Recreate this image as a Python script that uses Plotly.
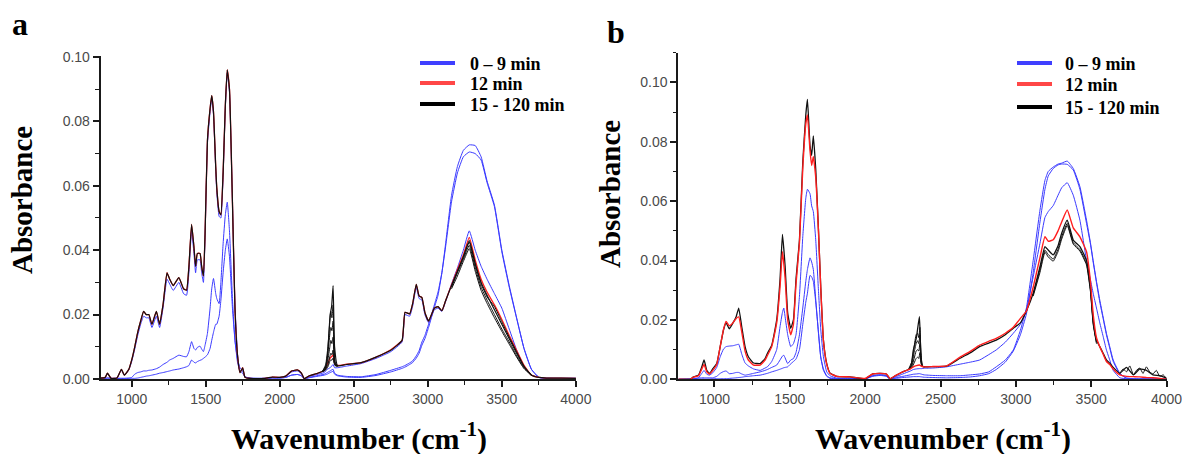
import plotly.graph_objects as go

# ---------------- panel a : wavenumber grid and spectra ----------------
wn_a = [790, 820, 836, 860, 900, 930, 950, 980, 1000, 1020,
        1040, 1060, 1080, 1098, 1115, 1136, 1166, 1188, 1211, 1238,
        1256, 1280, 1318, 1350, 1370, 1386, 1404, 1420, 1431, 1443,
        1461, 1472, 1484, 1495, 1511, 1529, 1540, 1552, 1567, 1574,
        1590, 1602, 1617, 1632, 1645, 1660, 1680, 1697, 1715, 1731,
        1749, 1765, 1800, 1900, 1950, 2000, 2040, 2080, 2120, 2146,
        2165, 2200, 2250, 2300, 2320, 2340, 2350, 2360, 2370, 2390,
        2450, 2550, 2650, 2750, 2826, 2846, 2877, 2897, 2922, 2941,
        2960, 2980, 3005, 3044, 3069, 3095, 3120, 3160, 3200, 3240,
        3280, 3320, 3360, 3400, 3450, 3500, 3550, 3600, 3650, 3700,
        3750, 3800, 3900, 4000]

black_a = [0.0003, 0.0005, 0.0018, 0.0002, 0.0003, 0.003, 0.0012, 0.003, 0.006, 0.010,
           0.0145, 0.018, 0.021, 0.020, 0.020, 0.017, 0.021, 0.017, 0.023, 0.033,
           0.031, 0.029, 0.0315, 0.028, 0.0276, 0.035, 0.048, 0.041, 0.035, 0.039,
           0.039, 0.035, 0.032, 0.045, 0.074, 0.084, 0.088, 0.083, 0.066, 0.0595,
           0.052, 0.051, 0.064, 0.085, 0.096, 0.090, 0.055, 0.022, 0.007, 0.002,
           0.0035, 0.0005, 0.0002, 0.0002, 0.0006, 0.0005, 0.0009, 0.0025, 0.0028, 0.0018,
           0.0001, 0.001, 0.0017, 0.0026, 0.006, 0.020, 0.0225, 0.029, 0.010, 0.0041,
           0.0045, 0.0051, 0.0068, 0.0089, 0.012, 0.0207, 0.0202, 0.0233, 0.0294, 0.0258,
           0.0253, 0.0207, 0.018, 0.022, 0.0225, 0.0212, 0.0243, 0.029, 0.0335, 0.038,
           0.043, 0.036, 0.030, 0.026, 0.0215, 0.017, 0.0125, 0.008, 0.0038, 0.0012,
           0.0005, 0.0003, 0.0003, 0.0002]

red_a = [0.0003, 0.0005, 0.0018, 0.0002, 0.0003, 0.003, 0.0012, 0.003, 0.006, 0.010,
         0.0145, 0.018, 0.021, 0.020, 0.020, 0.017, 0.021, 0.017, 0.023, 0.033,
         0.031, 0.029, 0.0315, 0.028, 0.0276, 0.035, 0.048, 0.041, 0.035, 0.039,
         0.039, 0.035, 0.032, 0.045, 0.074, 0.084, 0.088, 0.083, 0.066, 0.0595,
         0.052, 0.051, 0.064, 0.085, 0.096, 0.090, 0.055, 0.022, 0.007, 0.002,
         0.0035, 0.0005, 0.0002, 0.0002, 0.0006, 0.0005, 0.0009, 0.0025, 0.0028, 0.0018,
         0.0001, 0.001, 0.0017, 0.0026, 0.0045, 0.0065, 0.007, 0.0074, 0.005, 0.0042,
         0.0046, 0.0051, 0.0068, 0.0091, 0.012, 0.0207, 0.0202, 0.0233, 0.0294, 0.0258,
         0.0253, 0.0207, 0.018, 0.022, 0.0225, 0.0212, 0.0243, 0.0292, 0.034, 0.0385,
         0.044, 0.037, 0.031, 0.027, 0.023, 0.0185, 0.0135, 0.0088, 0.0042, 0.0012,
         0.0005, 0.0003, 0.0003, 0.0002]

blue_a1 = [0.0002, 0.0002, 0.0003, 0.0002, 0.0002, 0.0002, 0.0002, 0.0002, 0.0002, 0.0002,
           0.0003, 0.0005, 0.0007, 0.0009, 0.001, 0.0012, 0.0015, 0.0018, 0.002, 0.0023,
           0.0025, 0.0028, 0.0031, 0.0035, 0.0038, 0.0042, 0.0059, 0.0052, 0.005, 0.0054,
           0.0058, 0.006, 0.0064, 0.0068, 0.0075, 0.0095, 0.012, 0.0145, 0.017, 0.017,
           0.0195, 0.0245, 0.033, 0.040, 0.0435, 0.038, 0.022, 0.012, 0.005, 0.0025,
           0.0018, 0.0006, 0.0002, 0.0002, 0.0003, 0.0003, 0.0005, 0.0012, 0.0014, 0.001,
           0.0001, 0.0004, 0.0008, 0.0012, 0.0015, 0.002, 0.0022, 0.0024, 0.0015, 0.001,
           0.0006, 0.0005, 0.0011, 0.0022, 0.0033, 0.0037, 0.0045, 0.0051, 0.0065, 0.008,
           0.0105, 0.0125, 0.016, 0.0222, 0.026, 0.033, 0.042, 0.057, 0.066, 0.071,
           0.0727, 0.0725, 0.069, 0.0615, 0.054, 0.040, 0.029, 0.019, 0.0095, 0.003,
           0.0005, 0.0002, 0.0002, 0.0002]

blue_a2 = [0.0002, 0.0002, 0.0003, 0.0002, 0.0002, 0.0002, 0.0002, 0.0003, 0.0005, 0.0015,
           0.002, 0.0022, 0.0025, 0.0025, 0.0027, 0.0028, 0.0032, 0.0037, 0.0045, 0.0052,
           0.0059, 0.0064, 0.0074, 0.007, 0.0069, 0.0085, 0.0116, 0.0095, 0.009, 0.0098,
           0.0102, 0.0093, 0.0085, 0.0105, 0.0141, 0.022, 0.028, 0.0312, 0.0265, 0.025,
           0.0234, 0.030, 0.042, 0.051, 0.0549, 0.046, 0.025, 0.012, 0.0059, 0.0035,
           0.0025, 0.0007, 0.0003, 0.0002, 0.0003, 0.0003, 0.0005, 0.0012, 0.0014, 0.001,
           0.0001, 0.0005, 0.001, 0.0015, 0.002, 0.0025, 0.0028, 0.003, 0.0018, 0.0012,
           0.0008, 0.0007, 0.0014, 0.0027, 0.0038, 0.0042, 0.005, 0.0056, 0.0072, 0.0088,
           0.0115, 0.0135, 0.017, 0.023, 0.027, 0.033, 0.041, 0.055, 0.064, 0.069,
           0.0705, 0.070, 0.068, 0.061, 0.0535, 0.0395, 0.0285, 0.0188, 0.0094, 0.003,
           0.0005, 0.0002, 0.0002, 0.0002]

blue_a3 = [0.0003, 0.0005, 0.0016, 0.0002, 0.0003, 0.0028, 0.0011, 0.0028, 0.0055, 0.0093,
           0.0135, 0.017, 0.0195, 0.019, 0.019, 0.016, 0.0195, 0.016, 0.022, 0.031,
           0.0295, 0.0275, 0.030, 0.0265, 0.026, 0.033, 0.046, 0.039, 0.033, 0.037,
           0.037, 0.033, 0.030, 0.044, 0.073, 0.083, 0.087, 0.082, 0.065, 0.058,
           0.0505, 0.050, 0.063, 0.084, 0.095, 0.089, 0.055, 0.023, 0.0075, 0.0025,
           0.003, 0.0006, 0.0002, 0.0002, 0.0005, 0.0005, 0.0008, 0.0022, 0.0025, 0.0016,
           0.0001, 0.0008, 0.0014, 0.002, 0.003, 0.0035, 0.004, 0.0045, 0.0035, 0.0035,
           0.004, 0.0048, 0.0064, 0.0085, 0.0115, 0.020, 0.0195, 0.0225, 0.0285, 0.025,
           0.0245, 0.020, 0.0175, 0.0215, 0.022, 0.021, 0.024, 0.0295, 0.0345, 0.040,
           0.046, 0.040, 0.035, 0.031, 0.0265, 0.022, 0.0155, 0.009, 0.004, 0.0012,
           0.0005, 0.0003, 0.0002, 0.0002]

# extra 15-120 min spectra that only differ around the CO2 doublet and the OH band
co2_wn_a = [2290, 2310, 2325, 2338, 2345, 2352, 2360, 2366, 2375, 2390]
co2_black_a = [
    [0.0025, 0.0045, 0.010, 0.018, 0.021, 0.019, 0.023, 0.012, 0.005, 0.0041],
    [0.0025, 0.004, 0.008, 0.014, 0.016, 0.015, 0.018, 0.009, 0.0045, 0.0041],
    [0.0025, 0.0035, 0.006, 0.010, 0.012, 0.011, 0.013, 0.007, 0.0043, 0.004],
    [0.0024, 0.003, 0.0045, 0.007, 0.008, 0.0075, 0.009, 0.0055, 0.0042, 0.004],
    [0.0024, 0.0028, 0.0038, 0.0055, 0.006, 0.0058, 0.0065, 0.005, 0.0041, 0.004],
]
oh_wn_a = [3160, 3200, 3240, 3280, 3320, 3360, 3400, 3450, 3500, 3550, 3600, 3650, 3700]
oh_black_a = [
    [0.0285, 0.033, 0.0372, 0.0415, 0.0345, 0.0285, 0.0245, 0.0200, 0.0155, 0.0115, 0.0072, 0.0035, 0.0012],
    [0.028, 0.032, 0.0365, 0.0405, 0.0335, 0.0275, 0.0235, 0.0190, 0.0148, 0.0108, 0.0068, 0.0032, 0.0011],
    [0.0288, 0.0333, 0.0378, 0.0425, 0.0355, 0.0295, 0.0255, 0.0225, 0.0178, 0.0130, 0.0085, 0.0040, 0.0012],
]

# ---------------- panel b ----------------
wn_b = [760, 839, 861, 894, 916, 931, 949, 967, 989, 1015,
        1038, 1060, 1077, 1099, 1122, 1144, 1161, 1181, 1203, 1225,
        1259, 1303, 1336, 1351, 1380, 1413, 1435, 1451, 1460, 1469,
        1486, 1506, 1524, 1541, 1564, 1586, 1606, 1617, 1634, 1645,
        1656, 1672, 1690, 1705, 1723, 1745, 1767, 1811, 1900, 2000,
        2050, 2100, 2140, 2165, 2200, 2250, 2300, 2320, 2340, 2360,
        2375, 2390, 2450, 2540, 2630, 2700, 2760, 2820, 2870, 2930,
        2983, 3030, 3070, 3115, 3160, 3193, 3215, 3248, 3280, 3304,
        3341, 3381, 3425, 3469, 3495, 3513, 3535, 3557, 3579, 3601,
        3623, 3646, 3690, 3734, 3780, 3822, 3866, 3910, 3955, 4000]

black_b = [0.0, 0.0, 0.0008, 0.0014, 0.0042, 0.0065, 0.003, 0.0019, 0.0036, 0.0053,
           0.011, 0.0166, 0.019, 0.017, 0.0189, 0.0211, 0.024, 0.0177, 0.011, 0.0076,
           0.0055, 0.0053, 0.007, 0.0087, 0.0115, 0.020, 0.0336, 0.0488, 0.044, 0.038,
           0.0223, 0.0172, 0.020, 0.0336, 0.047, 0.073, 0.089, 0.0943, 0.0787, 0.0754,
           0.082, 0.0708, 0.0505, 0.0313, 0.0132, 0.0053, 0.0021, 0.001, 0.0008, 0.0002,
           0.0018, 0.002, 0.0018, 0.0002, 0.0012, 0.0025, 0.0037, 0.0099, 0.014, 0.0211,
           0.0048, 0.0042, 0.0043, 0.0044, 0.0071, 0.009, 0.011, 0.0122, 0.0132, 0.015,
           0.0172, 0.019, 0.023, 0.029, 0.0379, 0.0447, 0.0435, 0.0419, 0.045, 0.0492,
           0.0536, 0.0469, 0.0447, 0.040, 0.0312, 0.020, 0.0132, 0.011, 0.0088, 0.0065,
           0.0054, 0.004, 0.002, 0.004, 0.0015, 0.0035, 0.003, 0.0015, 0.0012, 0.0003]

red_b = [0.0, 0.0, 0.0007, 0.0012, 0.0035, 0.005, 0.0025, 0.0018, 0.003, 0.005,
         0.011, 0.0168, 0.0195, 0.018, 0.019, 0.0205, 0.021, 0.016, 0.0095, 0.0065,
         0.0048, 0.0048, 0.0065, 0.008, 0.011, 0.019, 0.031, 0.043, 0.039, 0.034,
         0.020, 0.015, 0.0185, 0.032, 0.046, 0.071, 0.086, 0.089, 0.077, 0.072,
         0.075, 0.068, 0.050, 0.031, 0.013, 0.005, 0.002, 0.001, 0.0008, 0.0003,
         0.0018, 0.002, 0.0018, 0.0002, 0.0012, 0.0025, 0.0035, 0.0042, 0.0046, 0.0048,
         0.0044, 0.0042, 0.0043, 0.0045, 0.0075, 0.0095, 0.0115, 0.0128, 0.0138, 0.0155,
         0.0175, 0.0205, 0.023, 0.031, 0.041, 0.048, 0.0465, 0.047, 0.050, 0.053,
         0.057, 0.051, 0.048, 0.043, 0.033, 0.022, 0.014, 0.011, 0.0085, 0.006,
         0.005, 0.0035, 0.0015, 0.001, 0.0009, 0.0008, 0.0006, 0.0005, 0.0003, 0.0]

blue_b1 = [0.0, 0.0001, 0.0002, 0.0005, 0.002, 0.003, 0.0017, 0.0014, 0.0022, 0.004,
           0.0076, 0.0102, 0.011, 0.0112, 0.0113, 0.0116, 0.0118, 0.0085, 0.0055, 0.0045,
           0.0035, 0.003, 0.0038, 0.0042, 0.006, 0.010, 0.0177, 0.0225, 0.024, 0.021,
           0.015, 0.011, 0.012, 0.015, 0.028, 0.048, 0.061, 0.064, 0.0625, 0.0584,
           0.0565, 0.047, 0.030, 0.017, 0.0076, 0.0025, 0.0012, 0.0004, 0.0003, 0.0002,
           0.0012, 0.0015, 0.0012, 0.0001, 0.0008, 0.0018, 0.0028, 0.0033, 0.0035, 0.0036,
           0.0036, 0.0037, 0.0038, 0.0042, 0.0051, 0.0058, 0.0065, 0.0083, 0.0099, 0.0125,
           0.0155, 0.0185, 0.0235, 0.0345, 0.0458, 0.0545, 0.0565, 0.0585, 0.062, 0.0645,
           0.0662, 0.062, 0.0536, 0.040, 0.0335, 0.029, 0.024, 0.019, 0.0145, 0.0099,
           0.0065, 0.003, 0.0005, 0.0002, 0.0001, 0.0001, 0.0001, 0.0001, 0.0001, 0.0]

blue_b2 = [0.0, 0.0001, 0.0002, 0.0004, 0.0005, 0.0005, 0.0005, 0.0005, 0.0005, 0.001,
           0.002, 0.0026, 0.0028, 0.0019, 0.002, 0.0023, 0.0023, 0.0018, 0.0014, 0.0016,
           0.002, 0.0025, 0.003, 0.0033, 0.004, 0.0048, 0.0065, 0.0078, 0.0081, 0.0072,
           0.0053, 0.0065, 0.007, 0.009, 0.015, 0.024, 0.033, 0.037, 0.0409, 0.0395,
           0.037, 0.027, 0.0155, 0.0075, 0.0035, 0.0012, 0.0005, 0.0003, 0.0002, 0.0002,
           0.0012, 0.0015, 0.0012, 0.0001, 0.0005, 0.001, 0.0015, 0.0017, 0.0018, 0.0019,
           0.0017, 0.0015, 0.0013, 0.0012, 0.0012, 0.0015, 0.0018, 0.0025, 0.0042, 0.0065,
           0.0099, 0.0165, 0.024, 0.040, 0.057, 0.067, 0.070, 0.0715, 0.0725, 0.0728,
           0.0735, 0.071, 0.0649, 0.0536, 0.046, 0.040, 0.033, 0.0267, 0.021, 0.0155,
           0.011, 0.0065, 0.002, 0.0004, 0.0002, 0.0001, 0.0001, 0.0001, 0.0001, 0.0]

blue_b3 = [0.0, 0.0, 0.0001, 0.0001, 0.0001, 0.0001, 0.0001, 0.0001, 0.0002, 0.0002,
           0.0002, 0.0002, 0.0002, 0.0003, 0.0004, 0.0005, 0.0006, 0.0007, 0.0009, 0.001,
           0.0012, 0.0014, 0.0018, 0.002, 0.0025, 0.003, 0.0034, 0.0037, 0.0039, 0.004,
           0.0042, 0.0052, 0.006, 0.0068, 0.010, 0.0185, 0.026, 0.029, 0.035, 0.0345,
           0.033, 0.026, 0.016, 0.0076, 0.003, 0.001, 0.0003, 0.0002, 0.0001, 0.0001,
           0.001, 0.0013, 0.001, 0.0001, 0.0003, 0.0006, 0.0008, 0.0009, 0.0009, 0.0009,
           0.0008, 0.0007, 0.0006, 0.0005, 0.0006, 0.0008, 0.0012, 0.0019, 0.0033, 0.0058,
           0.0095, 0.015, 0.022, 0.036, 0.053, 0.064, 0.0685, 0.071, 0.0722, 0.0725,
           0.0724, 0.0705, 0.064, 0.0525, 0.0455, 0.0395, 0.0325, 0.026, 0.0205, 0.015,
           0.0105, 0.006, 0.0018, 0.0004, 0.0002, 0.0001, 0.0001, 0.0001, 0.0001, 0.0]

co2_wn_b = [2290, 2310, 2325, 2338, 2348, 2356, 2363, 2370, 2380, 2392]
co2_black_b = [
    [0.0036, 0.006, 0.011, 0.015, 0.0155, 0.014, 0.0175, 0.009, 0.0045, 0.0042],
    [0.0036, 0.005, 0.009, 0.012, 0.013, 0.012, 0.015, 0.008, 0.0045, 0.0042],
    [0.0036, 0.0045, 0.007, 0.0095, 0.010, 0.0095, 0.012, 0.0065, 0.0044, 0.0042],
    [0.0036, 0.004, 0.0055, 0.007, 0.0075, 0.007, 0.009, 0.0055, 0.0043, 0.0042],
]
oh_wn_b = [3115, 3160, 3193, 3215, 3248, 3280, 3304, 3341, 3381, 3425, 3469, 3495, 3513, 3535]
oh_black_b = [
    [0.0285, 0.037, 0.0435, 0.042, 0.0405, 0.0438, 0.048, 0.0525, 0.046, 0.0437, 0.039, 0.030, 0.019, 0.0125],
    [0.028, 0.036, 0.0428, 0.0412, 0.0398, 0.043, 0.0472, 0.0518, 0.0455, 0.0432, 0.0385, 0.0295, 0.0185, 0.012],
]
tail_wn_b = [3690, 3712, 3734, 3756, 3780, 3800, 3822, 3844, 3866, 3888, 3910, 3932, 3955, 3978, 4000]
tail_black_b = [0.002, 0.0035, 0.0025, 0.0045, 0.0015, 0.003, 0.0038, 0.002, 0.0042, 0.0025,
                0.0018, 0.003, 0.001, 0.0015, 0.0002]

legend_names = ["0 \u2013 9 min", "12 min", "15 - 120 min"]

BLUE = "#3a3aff"
RED = "#ff1e1e"
BLACK = "#111111"
LEG_COLORS = ["#3f3fff", "#ff4747", "#000000"]

fig = go.Figure()


def add_line(x, y, color, width, xa, ya):
    assert len(x) == len(y), (len(x), len(y))
    fig.add_trace(go.Scatter(
        x=x, y=y, mode="lines", xaxis=xa, yaxis=ya, showlegend=False, hoverinfo="skip",
        line=dict(color=color, width=width, shape="spline", smoothing=0.4)))


# panel a
for yb in (blue_a1, blue_a2, blue_a3):
    add_line(wn_a, yb, BLUE, 1, "x", "y")
add_line(wn_a, red_a, RED, 1.3, "x", "y")
for yk in co2_black_a:
    add_line(co2_wn_a, yk, BLACK, 1, "x", "y")
for yk in oh_black_a:
    add_line(oh_wn_a, yk, BLACK, 1, "x", "y")
add_line(wn_a, black_a, BLACK, 1.2, "x", "y")

# panel b
for yb in (blue_b1, blue_b2, blue_b3):
    add_line(wn_b, yb, BLUE, 1, "x2", "y2")
for yk in co2_black_b:
    add_line(co2_wn_b, yk, BLACK, 1, "x2", "y2")
for yk in oh_black_b:
    add_line(oh_wn_b, yk, BLACK, 1, "x2", "y2")
add_line(tail_wn_b, tail_black_b, BLACK, 1, "x2", "y2")
add_line(wn_b, black_b, BLACK, 1.3, "x2", "y2")
add_line(wn_b, red_b, RED, 1.4, "x2", "y2")

W, H = 1182, 454
tickfont = dict(family="Liberation Sans", size=14, color="#4a4a4a")
axis_common = dict(showline=True, linecolor="#1a1a1a", linewidth=2, ticks="outside",
                   ticklen=6, tickwidth=1.5, tickcolor="#1a1a1a", showgrid=False,
                   zeroline=False, tickfont=tickfont, ticklabeloverflow="allow")
xminor = dict(ticks="outside", ticklen=3.5, tickwidth=1.2, tickcolor="#1a1a1a", dtick=250, tick0=0)
yminor = dict(ticks="outside", ticklen=3.5, tickwidth=1.2, tickcolor="#1a1a1a", dtick=0.01, tick0=0)

fig.update_layout(
    width=W, height=H, margin=dict(l=0, r=0, t=0, b=0, autoexpand=False),
    paper_bgcolor="white", plot_bgcolor="white", showlegend=False,
    xaxis=dict(domain=[100.7 / W, 576 / W], range=[790, 4001], dtick=500, tick0=0,
               minor=xminor, anchor="y", **axis_common),
    yaxis=dict(domain=[(H - 379) / H, (H - 56) / H], range=[0, 0.1003], dtick=0.02,
               tickformat=".2f", minor=yminor, anchor="x", **axis_common),
    xaxis2=dict(domain=[678.3 / W, 1166.7 / W], range=[760, 4001], dtick=500, tick0=0,
                minor=xminor, anchor="y2", **axis_common),
    yaxis2=dict(domain=[(H - 379.3) / H, (H - 52.7) / H], range=[0, 0.11], dtick=0.02,
                tickformat=".2f", minor=yminor, anchor="x2", **axis_common),
)

serif = "Liberation Serif"

# key for each panel: swatch line + label (pixel positions from the top-left corner)
legend_rows = {
    "a": dict(x0=420, x1=455, tx=468, ys=[63, 83, 104]),
    "b": dict(x0=1017, x1=1052, tx=1063, ys=[63, 84, 107]),
}
for key in legend_rows.values():
    for name, col, yy in zip(legend_names, LEG_COLORS, key["ys"]):
        fig.add_shape(type="line", xref="paper", yref="paper",
                      x0=key["x0"] / W, x1=key["x1"] / W, y0=1 - yy / H, y1=1 - yy / H,
                      line=dict(color=col, width=4))
        fig.add_annotation(xref="paper", yref="paper", showarrow=False,
                           x=key["tx"] / W, y=1 - (yy + 1) / H, xanchor="left", yanchor="middle",
                           text="<b>" + name + "</b>",
                           font=dict(family=serif, size=18, color="#000000"))

annotations = [
    dict(text="<b>a</b>", x=20 / W, y=1 - 24 / H, font=dict(family=serif, size=32)),
    dict(text="<b>b</b>", x=616 / W, y=1 - 32 / H, font=dict(family=serif, size=32)),
    dict(text="<b>Absorbance</b>", x=22 / W, y=1 - 200 / H, textangle=-90,
         font=dict(family=serif, size=29)),
    dict(text="<b>Absorbance</b>", x=610 / W, y=1 - 194 / H, textangle=-90,
         font=dict(family=serif, size=29)),
    dict(text="<b>Wavenumber (cm<sup>-1</sup>)</b>", x=359 / W, y=1 - 436 / H,
         font=dict(family=serif, size=30)),
    dict(text="<b>Wavenumber (cm<sup>-1</sup>)</b>", x=943 / W, y=1 - 436 / H,
         font=dict(family=serif, size=30)),
]
for a in annotations:
    a["font"]["color"] = "#000000"
    fig.add_annotation(xref="paper", yref="paper", showarrow=False,
                       xanchor="center", yanchor="middle", **a)

# the page body has a default 8px margin; drop it so the figure sits at the window's corner
fig.write_html("out.html", config={"displayModeBar": False},
               post_script="document.body.style.margin = '0px';")
